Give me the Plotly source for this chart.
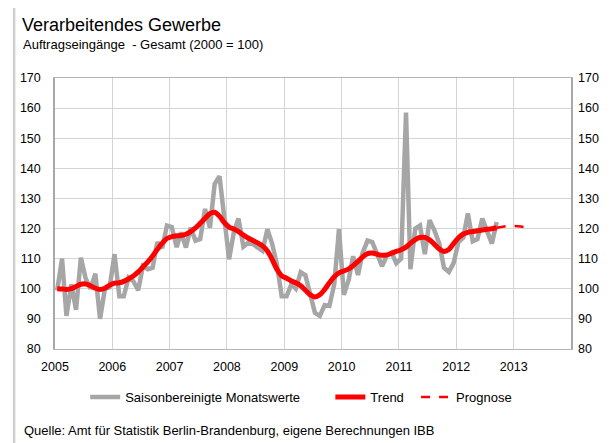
import plotly.graph_objects as go
import pandas as pd

# monthly values Jan 2005 - Sep 2012 (seasonally adjusted, 2000 = 100)
monthly = [
    99.5, 110, 91, 101.5, 93, 110.3, 103.5, 100, 105, 90, 100, 100.5,
    111.5, 97.5, 97.5, 103.7, 102.5, 99.5, 107.5, 106.5, 107, 115.5, 113.5, 121,
    120.5, 113.8, 118.7, 113.7, 120.3, 116, 116.5, 126.5, 120.3, 134.8, 137.4, 123,
    109.8, 119, 123.3, 114, 115.3, 114.8, 113.7, 112.6, 119.8, 115, 108, 97.5,
    97.5, 101.5, 100, 105.5, 104.5, 98, 92, 91, 94.6, 94.3, 101.5, 119.8,
    98, 103, 110.8, 104.6, 112, 116, 115.5, 111.5, 107.5, 110.9, 112, 108.5,
    110, 158.5, 106.5, 120, 121, 111.5, 122.8, 119.4, 115, 107, 105.6, 108.5,
    115.5, 117, 125, 115.8, 116.5, 123.3, 119.5, 115, 122.2,
]
trend = [
    100.05, 99.95, 99.8, 100.05, 100.75, 101.5, 101.6, 101, 100.2, 99.8, 100.2, 101.2,
    101.9, 102, 102.45, 103.3, 104.25, 105.6, 107.25, 108.95, 110.9, 113.1, 115.15, 116.7,
    117.3, 117.6, 117.7, 118.1, 119, 120.25, 121.75, 123.4, 124.95, 125.4, 124.1, 122,
    120.5, 119.85, 119, 117.85, 116.85, 116.05, 115.25, 114.25, 112.55, 109.75, 106.45, 104.3,
    103.5, 102.6, 102, 101, 99.5, 98, 97.3, 98, 99.8, 102, 104, 105.3,
    105.9, 106.6, 107.7, 109.1, 110.6, 111.7, 111.9, 111.45, 111.1, 111.25, 111.8, 112.4,
    112.95, 113.85, 115.1, 116.35, 117.05, 117.05, 116.25, 114.75, 113.25, 112.4, 113.05, 115,
    116.95, 118.2, 118.75, 119, 119.25, 119.55, 119.75, 119.95, 120.25,
]
# forecast Sep 2012 - Mar 2013
forecast = [120.25, 120.6, 120.8, 120.9, 120.9, 120.7, 120.4]

year_ticks = ["2005", "2006", "2007", "2008", "2009", "2010", "2011", "2012", "2013"]

dates = pd.date_range("2005-01-01", periods=len(monthly), freq="MS") + pd.Timedelta(days=14)
fc_dates = pd.date_range("2012-09-01", periods=len(forecast), freq="MS") + pd.Timedelta(days=14)

FONT = "Liberation Sans, Arial, sans-serif"
NB = "\u00a0"

fig = go.Figure()
fig.add_trace(go.Scatter(x=dates, y=monthly, mode="lines",
                         name="Saisonbereinigte Monatswerte" + NB * 7,
                         line=dict(color="#a6a6a6", width=4.5)))
fig.add_trace(go.Scatter(x=dates, y=trend, mode="lines", name="Trend" + NB * 2,
                         line=dict(color="#ff0000", width=5, shape="spline")))
fig.add_trace(go.Scatter(x=fc_dates, y=forecast, mode="lines", name="Prognose",
                         line=dict(color="#ff0000", width=2.5, dash="dash")))
# invisible copy so the right-hand axis is drawn
fig.add_trace(go.Scatter(x=dates, y=trend, yaxis="y2", mode="lines", showlegend=False,
                         hoverinfo="skip", line=dict(color="rgba(0,0,0,0)", width=0)))

tickvals = [f"{y}-01-01" for y in year_ticks]
# page body has an 8px margin, so the figure is 8px smaller than the window
fig.update_layout(
    width=603, height=435,
    margin=dict(l=38, r=35, t=70, b=94),
    paper_bgcolor="white", plot_bgcolor="white",
    font=dict(family=FONT, size=12, color="black"),
    showlegend=True,
    legend=dict(orientation="h", x=0.0585, xanchor="left", y=-0.177, yanchor="middle",
                font=dict(size=13), bgcolor="rgba(0,0,0,0)"),
    xaxis=dict(range=["2005-01-01", "2014-01-01"], tickvals=tickvals, ticktext=year_ticks,
               showgrid=True, gridcolor="#d4d4d4", gridwidth=1,
               showline=True, linecolor="#b4b4b4", linewidth=1, mirror=True,
               ticks="", ticklabelstandoff=6, tickfont=dict(size=12.5)),
    yaxis=dict(range=[80, 170], dtick=10, showgrid=True, gridcolor="#d4d4d4",
               showline=True, linecolor="#a8a8a8", linewidth=1.5, mirror=True,
               ticks="", ticklabelstandoff=10, zeroline=False, tickfont=dict(size=12.5)),
    yaxis2=dict(range=[80, 170], dtick=10, overlaying="y", side="right", showgrid=False,
                ticks="", ticklabelstandoff=6, zeroline=False, showline=False,
                tickfont=dict(size=12.5)),
    annotations=[
        dict(text="Verarbeitendes Gewerbe", xref="paper", yref="paper", x=-0.067, y=1.152,
             xanchor="left", yanchor="bottom", showarrow=False, font=dict(size=18)),
        dict(text="Auftragseingänge \u00a0- Gesamt (2000 = 100)", xref="paper", yref="paper",
             x=-0.066, y=1.087, xanchor="left", yanchor="bottom", showarrow=False,
             font=dict(size=13)),
        dict(text="Quelle: Amt für Statistik Berlin-Brandenburg, eigene Berechnungen IBB",
             xref="paper", yref="paper", x=-0.064, y=-0.3, xanchor="left", yanchor="middle",
             showarrow=False, font=dict(size=13)),
    ],
    shapes=[
        dict(type="line", xref="paper", yref="paper", x0=-0.0792, x1=-0.0792, y0=1.273, y1=-0.38,
             line=dict(color="#cfcfcf", width=2.5)),
        dict(type="line", xref="paper", yref="paper", x0=-0.0792, x1=1.1, y0=1.273, y1=1.273,
             line=dict(color="#cfcfcf", width=2.5)),
    ],
)

fig.write_html("out.html")
